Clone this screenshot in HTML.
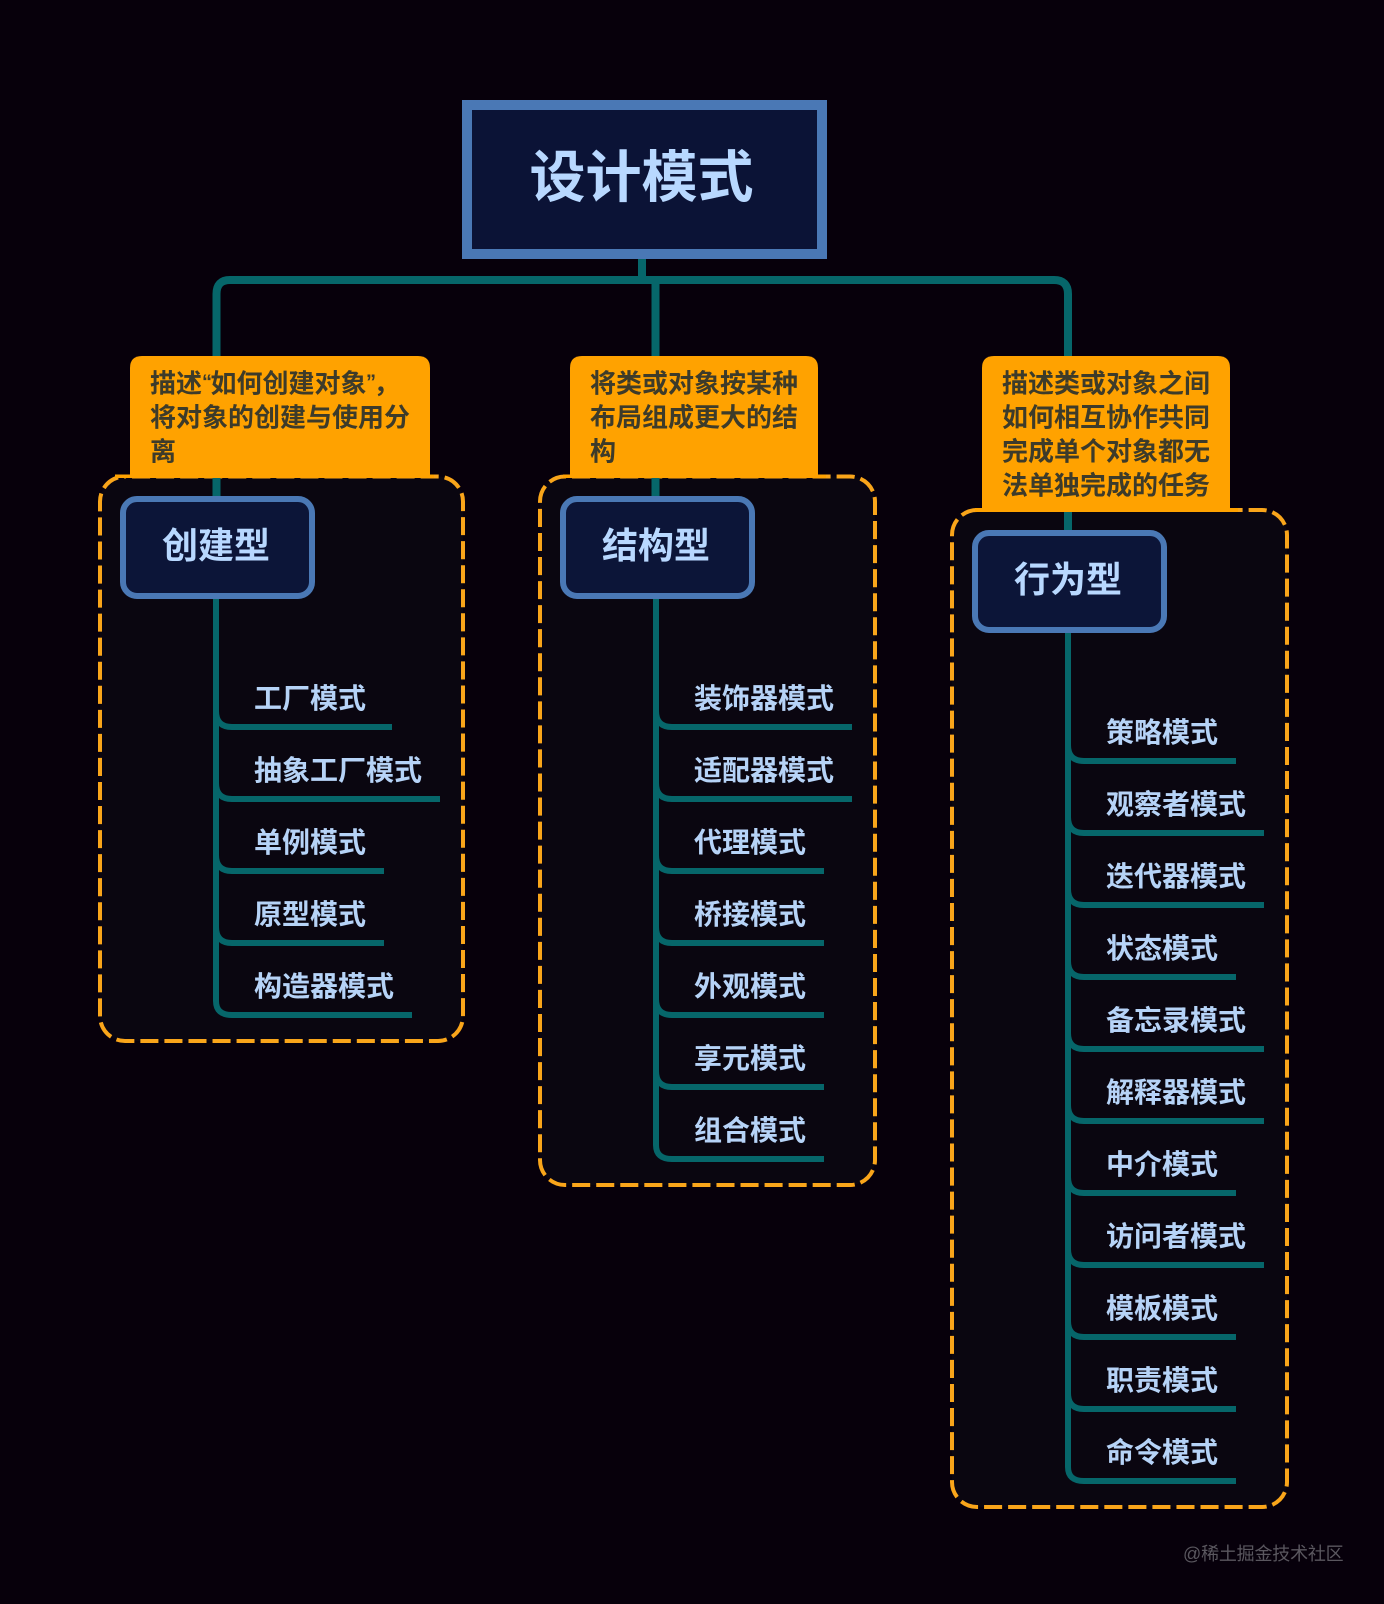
<!DOCTYPE html>
<html><head><meta charset="utf-8">
<style>
html,body{margin:0;padding:0;background:#07000b;}
svg{display:block;}
text{font-family:"Liberation Sans","Noto Sans CJK SC",sans-serif;}
.t{font-size:28px;font-weight:700;fill:#b6d3f7;}
.n{font-size:26px;font-weight:700;fill:#3d3b2a;}
.c{font-size:36px;font-weight:700;fill:#b8d8ff;}
.d{fill:#0a0610;stroke:#f9a51a;stroke-width:4;stroke-dasharray:18.05 6;stroke-dashoffset:17;}
.b{fill:#0c1538;stroke:#4a78b5;stroke-width:6;}
.o{fill:#ffa200;}
.l{fill:none;stroke:#06666a;stroke-width:6;}
.m{fill:none;stroke:#06666a;stroke-width:8;}
</style></head>
<body>
<svg width="1384" height="1604" viewBox="0 0 1384 1604" xmlns="http://www.w3.org/2000/svg">
<rect width="1384" height="1604" fill="#07000b"/>

<!-- dashed groups -->
<rect class="d" x="100" y="476.5" width="363" height="564.5" rx="25"/>
<rect class="d" x="540" y="476.5" width="335" height="708.5" rx="25"/>
<rect class="d" x="952" y="510" width="335" height="997" rx="25"/>

<!-- top connectors -->
<path class="m" d="M642 259V280M216.500 356V294Q216.500 280 230 280H1054Q1068 280 1068 294V356M655.500 280V356" />

<!-- notes -->
<path class="o" d="M130 478V368Q130 356 142 356H418Q430 356 430 368V478Z"/>
<path class="o" d="M570 478V368Q570 356 582 356H806Q818 356 818 368V478Z"/>
<path class="o" d="M982 512V368Q982 356 994 356H1218Q1230 356 1230 368V512Z"/>
<rect class="o" x="115" y="474.500" width="319" height="3.500"/>
<rect class="o" x="563" y="474.500" width="263" height="3.500"/>
<rect class="o" x="975" y="508" width="263" height="4"/>
<path class="m" d="M216.500 478V496M655.500 478V496M1068 512V530"/>

<text class="n" x="150" y="392.500">描述</text>
<text x="202" y="388.500" font-size="20" font-weight="700" fill="#3d3b2a">“</text>
<text class="n" x="210.500" y="392.500">如何创建对象</text>
<text x="366" y="388.500" font-size="20" font-weight="700" fill="#3d3b2a">”</text>
<text class="n" x="373.500" y="392.500">，</text>
<text class="n" x="150" y="426.500">将对象的创建与使用分</text>
<text class="n" x="150" y="460.500">离</text>

<text class="n" x="590" y="392.500">将类或对象按某种</text>
<text class="n" x="590" y="426.500">布局组成更大的结</text>
<text class="n" x="590" y="460.500">构</text>

<text class="n" x="1002" y="392.500">描述类或对象之间</text>
<text class="n" x="1002" y="426.500">如何相互协作共同</text>
<text class="n" x="1002" y="460.500">完成单个对象都无</text>
<text class="n" x="1002" y="494.500">法单独完成的任务</text>

<!-- root -->
<rect x="467" y="105" width="355" height="149" fill="#0b1336" stroke="#4a78b5" stroke-width="10"/>
<text x="529.500" y="197" font-size="56" font-weight="700" fill="#b8d8ff">设计模式</text>

<!-- trunks group 1 -->
<path class="l" d="M216 599V1001Q216 1015 232 1015H412"/>
<path class="l" d="M216 711Q216 727 232 727H392M216 783Q216 799 232 799H440M216 855Q216 871 232 871H384M216 927Q216 943 232 943H384"/>
<!-- trunks group 2 -->
<path class="l" d="M656 599V1145Q656 1159 672 1159H824"/>
<path class="l" d="M656 711Q656 727 672 727H852M656 783Q656 799 672 799H852M656 855Q656 871 672 871H824M656 927Q656 943 672 943H824M656 999Q656 1015 672 1015H824M656 1071Q656 1087 672 1087H824"/>
<!-- trunks group 3 -->
<path class="l" d="M1068 633V1467Q1068 1481 1084 1481H1236"/>
<path class="l" d="M1068 745Q1068 761 1084 761H1236M1068 817Q1068 833 1084 833H1264M1068 889Q1068 905 1084 905H1264M1068 961Q1068 977 1084 977H1236M1068 1033Q1068 1049 1084 1049H1264M1068 1105Q1068 1121 1084 1121H1264M1068 1177Q1068 1193 1084 1193H1236M1068 1249Q1068 1265 1084 1265H1264M1068 1321Q1068 1337 1084 1337H1236M1068 1393Q1068 1409 1084 1409H1236"/>

<!-- category boxes -->
<rect class="b" x="123" y="499" width="189" height="97" rx="14"/>
<rect class="b" x="563" y="499" width="189" height="97" rx="14"/>
<rect class="b" x="975" y="533" width="189" height="97" rx="14"/>
<text class="c" x="162" y="558">创建型</text>
<text class="c" x="602" y="558">结构型</text>
<text class="c" x="1014" y="592">行为型</text>

<!-- leaf labels 1 -->
<text class="t" x="254" y="708">工厂模式</text>
<text class="t" x="254" y="780">抽象工厂模式</text>
<text class="t" x="254" y="852">单例模式</text>
<text class="t" x="254" y="924">原型模式</text>
<text class="t" x="254" y="996">构造器模式</text>
<!-- leaf labels 2 -->
<text class="t" x="694" y="708">装饰器模式</text>
<text class="t" x="694" y="780">适配器模式</text>
<text class="t" x="694" y="852">代理模式</text>
<text class="t" x="694" y="924">桥接模式</text>
<text class="t" x="694" y="996">外观模式</text>
<text class="t" x="694" y="1068">享元模式</text>
<text class="t" x="694" y="1140">组合模式</text>
<!-- leaf labels 3 -->
<text class="t" x="1106" y="742">策略模式</text>
<text class="t" x="1106" y="814">观察者模式</text>
<text class="t" x="1106" y="886">迭代器模式</text>
<text class="t" x="1106" y="958">状态模式</text>
<text class="t" x="1106" y="1030">备忘录模式</text>
<text class="t" x="1106" y="1102">解释器模式</text>
<text class="t" x="1106" y="1174">中介模式</text>
<text class="t" x="1106" y="1246">访问者模式</text>
<text class="t" x="1106" y="1318">模板模式</text>
<text class="t" x="1106" y="1390">职责模式</text>
<text class="t" x="1106" y="1462">命令模式</text>

<text x="1183" y="1560" font-size="18" letter-spacing="-0.2" fill="#5a575f">@稀土掘金技术社区</text>
</svg>
</body></html>
